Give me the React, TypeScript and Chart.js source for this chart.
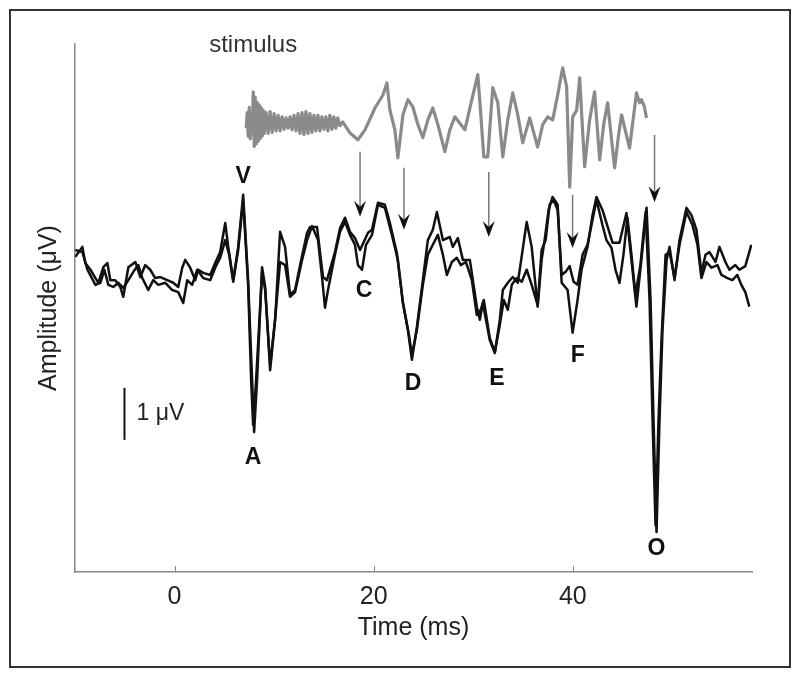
import React, { useEffect, useRef } from "react";
import { Chart, registerables } from "chart.js";

Chart.register(...registerables);

// ---- axis definitions ----
const xMin = -10;
const xMax = 58;
const yMin = -5.23;
const yMax = 4.92;
const xTickValues = [0, 20, 40];

// ---- recording 1 (ms, μV) ----
const timeA = [
  -9.96, -9.26, -8.96, -8.45, -7.95, -7.65, -7.15, -6.75, -6.45, -5.95, -5.45, -5.15, -4.64, -3.94, -3.44, -2.94,
  -2.44, -1.94, -1.43, -0.73, -0.13, 0.37, 0.77, 1.07, 1.57, 2.08, 2.38, 2.88, 3.58, 4.08, 4.58, 5.09, 5.39, 5.89,
  6.39, 6.89, 7.39, 7.79, 7.99, 8.29, 8.79, 9.1, 9.6, 10.1, 10.6, 11.1, 11.6, 12.1, 12.61, 13.31, 13.61, 14.31,
  14.91, 15.31, 16.11, 16.62, 17.12, 17.62, 18.12, 18.63, 19.43, 19.83, 20.43, 21.13, 21.63, 22.33, 22.94, 23.44,
  23.84, 24.34, 24.94, 25.44, 25.94, 26.35, 26.95, 27.65, 27.95, 28.45, 28.96, 29.66, 30.36, 30.66, 30.96, 31.66,
  32.17, 32.67, 32.97, 33.47, 33.97, 34.47, 34.67, 35.37, 35.87, 36.47, 36.87, 37.17, 37.57, 37.97, 38.48, 38.88,
  39.48, 39.98, 40.48, 40.88, 41.48, 41.98, 42.38, 42.98, 43.38, 43.99, 44.69, 45.39, 45.89, 46.39, 46.89, 47.41,
  47.81, 48.11, 48.41, 48.71, 49.01, 49.42, 49.72, 50.22, 50.72, 51.42, 51.92, 52.42, 52.92, 53.33, 53.73, 54.33,
  54.73, 55.33, 55.73, 56.33, 56.73, 57.33, 57.93,
];
const traceA = [
  0.83, 1.02, 0.71, 0.58, 0.42, 0.33, 0.63, 0.71, 0.38, 0.38, 0.25, 0.06, 0.63, 0.73, 0.44, 0.67,
  0.58, 0.42, 0.44, 0.38, 0.33, 0.25, 0.62, 0.77, 0.62, 0.38, 0.58, 0.52, 0.48, 0.71, 0.92, 1.48, 1.02, 0.38,
  1.02, 2.02, 0.38, -1.54, -2.54, -1.54, 0.63, 0.25, -1.35, -0.38, 1.31, 1.02, 0.1, 0.19, 0.67, 1.29, 1.4, 1.4,
  0.44, 0.38, 0.92, 1.38, 1.58, 1.31, 1.19, 0.96, 1.29, 1.35, 1.87, 1.83, 1.48, 0.9, -0.06, -0.58,
  -1.15, -0.52, 0.38, 1.15, 1.35, 1.69, 1.15, 1.21, 1.02, 1.19, 0.77, 0.77, -0.13, -0.38, -0.06, -0.77,
  -1.02, -0.38, 0.19, 0.33, 0.44, 0.33, 0.58, 1.5, 1.02, -0.13, 0.77, 1.15, 1.73, 1.98, 1.83, 0.33,
  0.19, -0.63, 0.0, 0.58, 1.02, 1.63, 1.98, 1.73, 1.48, 1.1, 1.1, 1.67, 0.77, -0.13, 0.77, 1.77,
  0.0, -2.31, -4.46, -2.31, -0.58, 0.77, 1.02, 0.38, 1.15, 1.77, 1.63, 1.35, 0.52, 0.87, 0.92, 0.73,
  1.02, 0.73, 0.58, 0.67, 0.58, 0.65, 1.06,
];

// ---- recording 2 (ms, μV) ----
const timeB = [
  -9.96, -9.26, -8.75, -7.95, -7.45, -7.05, -6.65, -6.15, -5.65, -5.15, -4.64, -4.14, -3.64, -3.24, -2.64, -2.14,
  -1.63, -0.93, -0.23, 0.37, 0.87, 1.27, 1.77, 2.28, 2.88, 3.58, 4.08, 4.58, 5.09, 5.49, 5.89, 6.39, 6.89, 7.39,
  7.69, 7.89, 8.19, 8.79, 9.1, 9.6, 10.1, 10.6, 11.1, 11.6, 12.1, 12.81, 13.31, 13.81, 14.41, 14.81, 15.11, 15.41,
  16.11, 16.62, 17.12, 17.62, 18.12, 18.42, 18.83, 19.23, 19.83, 20.43, 21.13, 21.83, 22.43, 22.94, 23.54, 23.84,
  24.34, 24.94, 25.44, 25.94, 26.45, 26.95, 27.35, 27.85, 28.35, 28.76, 29.26, 29.86, 30.36, 30.76, 31.06, 31.66,
  32.17, 32.67, 33.07, 33.47, 33.87, 34.37, 34.87, 35.37, 35.87, 36.47, 36.87, 37.27, 37.67, 38.07, 38.48, 38.88,
  39.28, 39.68, 40.08, 40.48, 40.98, 41.48, 41.88, 42.38, 42.98, 43.38, 43.89, 44.29, 44.69, 45.09, 45.49, 45.89,
  46.29, 46.79, 47.31, 47.71, 48.01, 48.31, 48.61, 48.91, 49.32, 49.72, 50.22, 50.72, 51.42, 52.02, 52.52, 52.92,
  53.43, 53.93, 54.53, 54.93, 55.53, 56.03, 56.53, 56.93, 57.33, 57.73,
];
const traceB = [
  0.96, 0.92, 0.58, 0.29, 0.33, 0.58, 0.29, 0.25, 0.33, 0.23, 0.38, 0.54, 0.67, 0.42, 0.19, 0.38,
  0.29, 0.33, 0.19, 0.15, -0.06, 0.38, 0.29, 0.58, 0.42, 0.38, 0.62, 0.81, 1.15, 0.87, 0.35, 0.96, 1.92, 0.29,
  -1.54, -2.4, -1.54, 0.54, 0.19, -1.25, -0.38, 0.73, 0.67, 0.06, 0.15, 0.77, 1.15, 1.42, 1.15, 0.44, -0.15, 0.19,
  0.87, 1.31, 1.5, 1.25, 1.06, 0.67, 0.58, 1.06, 1.25, 1.83, 1.77, 1.25, 0.77, -0.06, -0.67, -1.06,
  -0.58, 0.29, 0.87, 1.06, 1.25, 0.87, 0.48, 0.73, 0.81, 0.67, 0.73, 0.38, -0.29, -0.19, 0.0, -0.73,
  -1.0, -0.48, 0.0, -0.19, 0.29, 0.42, 0.35, 0.58, 0.29, -0.1, 0.96, 1.15, 1.83, 1.92, 1.73, 0.48,
  0.54, 0.65, 0.35, 0.29, 0.87, 1.06, 1.44, 1.92, 1.44, 1.15, 1.0, 0.58, 0.33, 0.87, 1.58, 0.87,
  0.1, 0.67, 1.69, 0.0, -2.31, -4.33, -2.31, -0.77, 0.87, 0.92, 0.42, 1.06, 1.69, 1.44, 1.06, 0.42,
  0.73, 0.62, 0.67, 0.48, 0.42, 0.38, 0.48, 0.29, 0.15, -0.13,
];

// ---- stimulus waveform (ms, display offset units) ----
const stimulusTime = [
  7.2, 7.3, 7.4, 7.5, 7.6, 7.7, 7.8, 7.9, 8.0, 8.1, 8.2, 8.3, 8.4, 8.5, 8.6, 8.7, 8.8, 8.9, 9.0, 9.2, 9.4, 9.6, 9.8,
  10.0, 10.2, 10.4, 10.6, 10.8, 11.0, 11.2, 11.4, 11.6, 11.8, 12.0, 12.2, 12.4, 12.6, 12.8, 13.0, 13.2, 13.4, 13.6,
  13.8, 14.0, 14.2, 14.4, 14.6, 14.8, 15.0, 15.2, 15.4, 15.6, 15.8, 16.0, 16.2, 16.4, 16.6, 16.9,
  17.62, 18.42, 19.13, 20.13, 20.93, 21.33, 21.63, 22.13, 22.43, 22.94, 23.44, 23.94, 24.44, 24.94, 25.44, 25.94,
  26.45, 27.15, 27.65, 28.15, 29.16, 29.86, 30.46, 30.76, 31.06, 31.46, 31.96, 32.47, 32.97, 33.47, 33.97, 34.47,
  34.97, 35.67, 36.47, 36.98, 37.48, 37.98, 38.48, 38.98, 39.38, 39.69, 39.99, 40.39, 40.69, 41.19, 41.69, 42.19,
  42.7, 43.1, 43.5, 44.2, 44.6, 44.9, 45.7, 46.4, 46.7, 46.9, 47.2, 47.4,
];
const stimulusValue = [
  3.3, 3.6, 3.15, 3.7, 3.1, 3.55, 3.2, 4.0, 2.95, 3.9, 3.0, 3.8, 3.05, 3.75, 3.1, 3.7, 3.15, 3.65, 3.2, 3.6, 3.2, 3.62, 3.22,
  3.58, 3.25, 3.55, 3.25, 3.52, 3.28, 3.5, 3.3, 3.52, 3.27, 3.55, 3.25, 3.58, 3.2, 3.6, 3.18, 3.62, 3.2, 3.58,
  3.22, 3.55, 3.25, 3.55, 3.25, 3.52, 3.28, 3.52, 3.25, 3.55, 3.28, 3.52, 3.3, 3.5, 3.35, 3.42,
  3.21, 3.08, 3.27, 3.69, 3.94, 4.17, 3.65, 3.27, 2.73, 3.56, 3.85, 3.71, 3.37, 3.12, 3.46, 3.69,
  3.37, 2.85, 3.27, 3.52, 3.27, 3.85, 4.33, 3.56, 2.75, 2.75, 4.08, 3.79, 2.75, 3.46, 3.98, 3.56,
  3.02, 3.5, 2.94, 3.37, 3.52, 3.46, 3.94, 4.46, 4.1, 2.17, 3.52, 3.65, 4.27, 2.56, 3.46, 4.0,
  2.69, 3.37, 3.79, 2.54, 3.17, 3.56, 2.92, 3.98, 3.79, 3.85, 3.71, 3.5,
];

// ---- annotations ----
const peakNames = ["V", "A", "C", "D", "E", "F", "O"];
const peakLabelTime = [6.89, 7.89, 19.03, 23.95, 32.38, 40.49, 48.41];
const peakLabelValue = [2.37, -3.04, 0.17, -1.6, -1.52, -1.08, -4.79];

const arrowTime = [18.63, 23.04, 31.56, 39.98, 48.21];
const arrowTop = [2.85, 2.54, 2.46, 2.02, 3.17];
const arrowTip = [1.6, 1.35, 1.21, 1.0, 1.88];

const stimulusLabel = "stimulus";
const stimulusLabelPos = [7.9, 4.9];
const scaleBarTime = -5.03;
const scaleBarFrom = -1.69;
const scaleBarTo = -2.69;
const scaleBarText = "1 μV";

const FONT = "'Liberation Sans', Arial, sans-serif";

const toPoints = (xs: number[], ys: number[]) => xs.map((x, i) => ({ x, y: ys[i] }));

const overlayPlugin = {
  id: "overlay",
  beforeDraw(chart: any) {
    const { ctx, width, height } = chart;
    ctx.save();
    ctx.fillStyle = "#ffffff";
    ctx.fillRect(0, 0, width, height);
    ctx.restore();
  },
  afterDraw(chart: any) {
    const { ctx, scales, chartArea } = chart;
    const xs = scales.x;
    const ys = scales.y;
    ctx.save();
    // inward tick marks
    ctx.strokeStyle = "#888";
    ctx.lineWidth = 1;
    xTickValues.forEach((v) => {
      const px = Math.round(xs.getPixelForValue(v)) + 0.5;
      ctx.beginPath();
      ctx.moveTo(px, chartArea.bottom);
      ctx.lineTo(px, chartArea.bottom - 6);
      ctx.stroke();
    });
    // arrows
    arrowTime.forEach((t, i) => {
      const px = xs.getPixelForValue(t);
      const y0 = ys.getPixelForValue(arrowTop[i]);
      const y1 = ys.getPixelForValue(arrowTip[i]);
      ctx.strokeStyle = "#777";
      ctx.lineWidth = 1.5;
      ctx.beginPath();
      ctx.moveTo(px, y0);
      ctx.lineTo(px, y1 - 4);
      ctx.stroke();
      ctx.fillStyle = "#111";
      ctx.beginPath();
      ctx.moveTo(px, y1);
      ctx.lineTo(px - 6, y1 - 16);
      ctx.lineTo(px, y1 - 10);
      ctx.lineTo(px + 6, y1 - 16);
      ctx.closePath();
      ctx.fill();
    });
    // peak labels
    ctx.fillStyle = "#111";
    ctx.font = `bold 23px ${FONT}`;
    ctx.textAlign = "center";
    ctx.textBaseline = "middle";
    peakNames.forEach((n, i) => {
      ctx.fillText(n, xs.getPixelForValue(peakLabelTime[i]), ys.getPixelForValue(peakLabelValue[i]));
    });
    // stimulus label
    ctx.fillStyle = "#333";
    ctx.font = `24px ${FONT}`;
    ctx.fillText(stimulusLabel, xs.getPixelForValue(stimulusLabelPos[0]), ys.getPixelForValue(stimulusLabelPos[1]));
    // scale bar
    const sbx = xs.getPixelForValue(scaleBarTime);
    ctx.strokeStyle = "#111";
    ctx.lineWidth = 2;
    ctx.beginPath();
    ctx.moveTo(sbx, ys.getPixelForValue(scaleBarFrom));
    ctx.lineTo(sbx, ys.getPixelForValue(scaleBarTo));
    ctx.stroke();
    ctx.fillStyle = "#222";
    ctx.font = `23px ${FONT}`;
    ctx.textAlign = "left";
    ctx.fillText(scaleBarText, sbx + 12, ys.getPixelForValue((scaleBarFrom + scaleBarTo) / 2));
    // frame
    ctx.strokeStyle = "#333";
    ctx.lineWidth = 2;
    ctx.strokeRect(10, 10, 780, 657);
    ctx.restore();
  },
};

export default function App() {
  const ref = useRef<HTMLCanvasElement | null>(null);
  useEffect(() => {
    if (!ref.current) return;
    const chart = new Chart(ref.current, {
      type: "line",
      data: {
        datasets: [
          {
            label: "stimulus",
            data: toPoints(stimulusTime, stimulusValue),
            borderColor: "#8a8a8a",
            borderWidth: 3.2,
            pointRadius: 0,
            tension: 0,
            borderJoinStyle: "round",
          },
          {
            label: "recording 1",
            data: toPoints(timeA, traceA),
            borderColor: "#111",
            borderWidth: 2.5,
            pointRadius: 0,
            tension: 0,
            borderJoinStyle: "round",
          },
          {
            label: "recording 2",
            data: toPoints(timeB, traceB),
            borderColor: "#111",
            borderWidth: 2.5,
            pointRadius: 0,
            tension: 0,
            borderJoinStyle: "round",
          },
        ],
      },
      options: {
        responsive: false,
        animation: false,
        devicePixelRatio: 1,
        layout: { padding: { left: 0, top: 44, right: 48, bottom: 0 } },
        plugins: { legend: { display: false }, tooltip: { enabled: false }, title: { display: false } },
        scales: {
          x: {
            type: "linear",
            min: xMin,
            max: xMax,
            grid: { display: false },
            border: { display: true, color: "#888", width: 1.5 },
            afterBuildTicks: (scale: any) => {
              scale.ticks = xTickValues.map((v) => ({ value: v }));
            },
            afterFit: (scale: any) => {
              scale.height = 106;
            },
            ticks: { color: "#222", font: { family: FONT, size: 25 }, padding: 2 },
            title: {
              display: true,
              text: "Time (ms)",
              color: "#222",
              font: { family: FONT, size: 25 },
              padding: { top: 0, bottom: 35 },
            },
          },
          y: {
            type: "linear",
            min: yMin,
            max: yMax,
            grid: { display: false },
            border: { display: true, color: "#888", width: 1.5 },
            ticks: { display: false },
            afterFit: (scale: any) => {
              scale.width = 75;
            },
            title: {
              display: true,
              text: "Amplitude (μV)",
              color: "#222",
              font: { family: FONT, size: 25 },
              padding: { top: 34, bottom: 0 },
            },
          },
        },
      },
      plugins: [overlayPlugin],
    });
    return () => chart.destroy();
  }, []);
  return (
    <div style={{ position: "absolute", left: 0, top: 0, width: 800, height: 678 }}>
      <canvas ref={ref} width={800} height={678} style={{ display: "block" }} />
    </div>
  );
}
